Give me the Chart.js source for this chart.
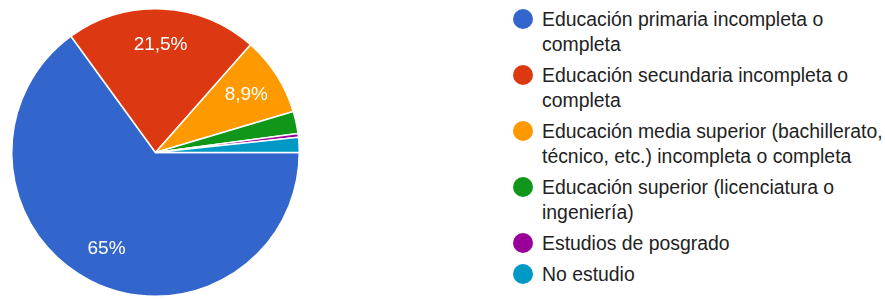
<!DOCTYPE html>
<html>
<head>
<meta charset="utf-8">
<script src="https://cdn.jsdelivr.net/npm/chart.js@4/dist/chart.umd.min.js"></script>
<style>
  body { margin: 0; background: #fff; }
  #wrap { position: relative; width: 885px; height: 299px; overflow: hidden; }
  #pieBox { position: absolute; left: 0; top: 0; width: 311px; height: 299px; }
  #legend { position: absolute; left: 513px; top: 7px; margin: 0; padding: 0; list-style: none;
            font-family: "Liberation Sans", Arial, sans-serif; font-size: 19.4px; line-height: 25px; color: #222; }
  #legend li { position: relative; padding-left: 29px; margin-bottom: 6px; white-space: nowrap; }
  #legend li span { position: absolute; left: 0; top: 2px; width: 20px; height: 20px; border-radius: 50%; }
</style>
</head>
<body>
<div id="wrap">
  <div id="pieBox"><canvas id="pie"></canvas></div>
  <ul id="legend"></ul>
</div>
<script>
// categories (one array per legend line)
const categories = [
    ['Educación primaria incompleta o', 'completa'],
    ['Educación secundaria incompleta o', 'completa'],
    ['Educación media superior (bachillerato,', 'técnico, etc.) incompleta o completa'],
    ['Educación superior (licenciatura o', 'ingeniería)'],
    ['Estudios de posgrado'],
    ['No estudio']
];
// percentages
const values = [65, 21.5, 8.9, 2.5, 0.4, 1.7];
const colors = ['#3366cc', '#dc3912', '#ff9900', '#109618', '#990099', '#0099c6'];

// draw the % text inside the bigger slices
const sliceLabels = {
    id: 'sliceLabels',
    afterDatasetsDraw(chart) {
        const ctx = chart.ctx;
        const meta = chart.getDatasetMeta(0);
        ctx.save();
        ctx.fillStyle = '#fff';
        ctx.font = '19px "Liberation Sans", Arial, sans-serif';
        ctx.textAlign = 'center';
        ctx.textBaseline = 'middle';
        meta.data.forEach(function (arc, i) {
            const v = chart.data.datasets[0].data[i];
            if (v < 5) return;
            const p = arc.getProps(['x', 'y', 'startAngle', 'endAngle', 'outerRadius'], true);
            const mid = (p.startAngle + p.endAngle) / 2;
            const r = p.outerRadius * 0.75;
            ctx.fillText(String(v).replace('.', ',') + '%', p.x + Math.cos(mid) * r, p.y + Math.sin(mid) * r);
        });
        ctx.restore();
    }
};

function buildLegend(chart) {
    const ul = document.getElementById('legend');
    ul.innerHTML = '';
    chart.data.labels.forEach(function (lab, i) {
        const li = document.createElement('li');
        li.innerHTML = '<span style="background:' + chart.data.datasets[0].backgroundColor[i] + '"></span>' + lab.join('<br>');
        ul.appendChild(li);
    });
}

window.onload = function () {
    const chart = new Chart(document.getElementById('pie'), {
        type: 'pie',
        data: {
            labels: categories,
            datasets: [{
                data: values,
                backgroundColor: colors,
                borderColor: '#fff',
                borderWidth: 1.5
            }]
        },
        options: {
            responsive: true,
            maintainAspectRatio: false,
            animation: false,
            rotation: 90,
            layout: { padding: { left: 11, right: 11, top: 8, bottom: 2 } },
            plugins: {
                legend: { display: false },
                tooltip: { enabled: false }
            }
        },
        plugins: [sliceLabels]
    });
    buildLegend(chart);
};
</script>
</body>
</html>
